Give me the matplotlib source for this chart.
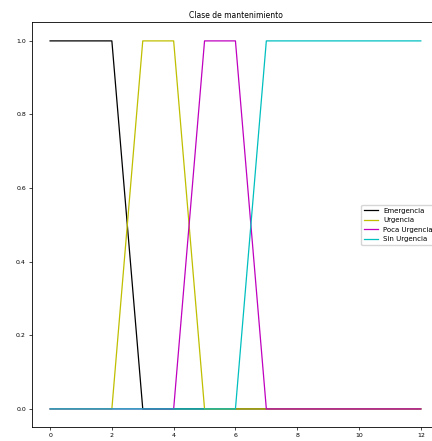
"""
Funciones de pertenencia para la clase de mantenimiento.
"""

import matplotlib.pyplot as plt

# Puntos de quiebre de cada funcion (x, grado de pertenencia)
emergencia_x = [0, 2, 3, 12]
emergencia_y = [1, 1, 0, 0]

urgencia_x = [0, 2, 3, 4, 5, 12]
urgencia_y = [0, 0, 1, 1, 0, 0]

poca_x = [0, 4, 5, 6, 7, 12]
poca_y = [0, 0, 1, 1, 0, 0]

sin_x = [0, 6, 7, 12]
sin_y = [0, 0, 1, 1]

etiquetas = ['Emergencia', 'Urgencia', 'Poca Urgencia', 'Sin Urgencia']

fig = plt.figure(figsize=(4.32, 4.41), dpi=100)
ax = fig.add_axes([0.073, 0.031, 0.944, 0.918])

ax.plot(emergencia_x, emergencia_y, 'k', linewidth=0.9, label=etiquetas[0])
ax.plot(urgencia_x, urgencia_y, 'y', linewidth=0.9, label=etiquetas[1])
ax.plot(poca_x, poca_y, 'm', linewidth=0.9, label=etiquetas[2])
ax.plot(sin_x, sin_y, 'c', linewidth=0.9, label=etiquetas[3])

ax.set_title('Clase de mantenimiento', fontsize=5.5, pad=3)
ax.set_xticks([0, 2, 4, 6, 8, 10, 12])
ax.tick_params(labelsize=4.5, length=2, width=0.5, pad=2)
for s in ax.spines.values():
    s.set_linewidth(0.6)
ax.legend(loc='center right', fontsize=5, handlelength=2, frameon=True)

plt.savefig('out.png', dpi=100)
